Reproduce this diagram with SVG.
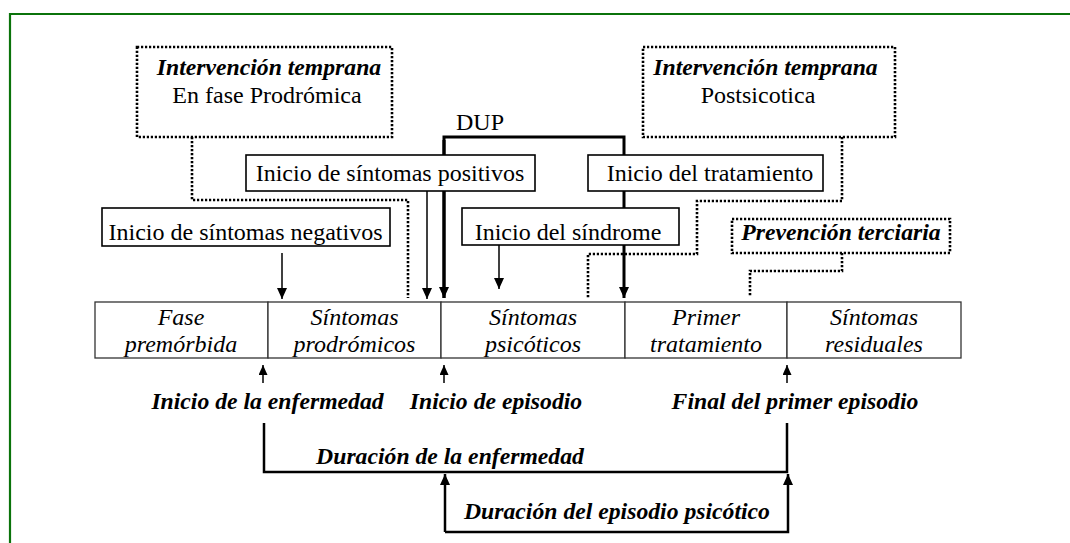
<svg xmlns="http://www.w3.org/2000/svg" width="1070" height="543" viewBox="0 0 1070 543">
<style>
  text{font-family:"Liberation Serif","Times New Roman",serif;fill:#000;font-size:24px}
  .bi{font-weight:bold;font-style:italic;font-size:23.7px}
  .it{font-style:italic}
  .mid{text-anchor:middle}
  .box{fill:#fff;stroke:#000;stroke-width:1.6}
  .dbox{fill:#fff;stroke:#000;stroke-width:2.6;stroke-dasharray:2.2 1.8}
  .cell{fill:#fff;stroke:#333;stroke-width:1.3}
  .thin{fill:none;stroke:#000;stroke-width:1.5}
  .thick{fill:none;stroke:#000;stroke-width:3}
  .mid2{fill:none;stroke:#000;stroke-width:2.5}
  .dot{fill:none;stroke:#000;stroke-width:2.6;stroke-dasharray:2.2 1.8}
</style>
<defs>
  <marker id="ah" viewBox="0 0 11 10" refX="11" refY="5" markerWidth="11" markerHeight="10" markerUnits="userSpaceOnUse" orient="auto">
    <path d="M0,0 L11,5 L0,10 z" fill="#000"/>
  </marker>
  <marker id="ahs" viewBox="0 0 10 9" refX="10" refY="4.5" markerWidth="10" markerHeight="9" markerUnits="userSpaceOnUse" orient="auto">
    <path d="M0,0 L10,4.5 L0,9 z" fill="#000"/>
  </marker>
</defs>
<rect width="1070" height="543" fill="#fff"/>
<path d="M10,543 V14 H1070" fill="none" stroke="#0b730b" stroke-width="2.2"/>

<g id="connectors">
  <!-- dotted links -->
  <path class="dot" d="M192,137 V200 H408 V298"/>
  <path class="dot" d="M842,137 V201 H697 V254 H588 V298"/>
  <path class="dot" d="M842,253 V271 H750 V297"/>
  <!-- DUP bracket -->
  <path class="thick" d="M444,298 V137 H624 V298" marker-end="url(#ah)"/>
  <path class="thick" d="M444,140 V298" marker-end="url(#ah)"/>
  <!-- thin arrows -->
  <path class="thin" d="M427,191 V299" marker-end="url(#ah)"/>
  <path class="thin" d="M282,253 V299" marker-end="url(#ah)"/>
  <path class="thin" d="M499,245 V289" marker-end="url(#ah)"/>
  <!-- up arrows under timeline -->
  <path class="thin" d="M263,383 V365" marker-end="url(#ahs)"/>
  <path class="thin" d="M444,383 V365" marker-end="url(#ahs)"/>
  <path class="thin" d="M787,383 V365" marker-end="url(#ahs)"/>
  <!-- duration brackets -->
  <path class="mid2" d="M264,423 V472 H787 V423"/>
  <path class="mid2" d="M445,532 V474" marker-end="url(#ah)"/>
  <path class="mid2" d="M445,532 H788 V474" marker-end="url(#ah)"/>
</g>

<g id="ip-prodromica">
  <rect class="dbox" x="137" y="47" width="255" height="90"/>
  <text class="bi mid" x="269" y="75">Intervención temprana</text>
  <text class="mid" x="267" y="102.5">En fase Prodrómica</text>
</g>
<g id="ip-postsicotica">
  <rect class="dbox" x="643" y="47" width="252" height="90"/>
  <text class="bi mid" x="765.5" y="75">Intervención temprana</text>
  <text class="mid" x="758" y="102.5">Postsicotica</text>
</g>
<g id="dup-label">
  <text class="mid" x="480" y="130">DUP</text>
</g>
<g id="inicio-positivos">
  <rect class="box" x="246" y="155" width="289" height="36"/>
  <text class="mid" x="390" y="181">Inicio de síntomas positivos</text>
</g>
<g id="inicio-tratamiento">
  <rect class="box" x="588" y="155" width="235" height="36"/>
  <text class="mid" x="710" y="180.5">Inicio del tratamiento</text>
</g>
<g id="inicio-negativos">
  <rect class="box" x="102" y="208" width="288" height="38"/>
  <text class="mid" x="245.5" y="240">Inicio de síntomas negativos</text>
</g>
<g id="inicio-sindrome">
  <rect class="box" x="462" y="208" width="217" height="37"/>
  <text class="mid" x="568" y="240">Inicio del síndrome</text>
</g>
<g id="prevencion-terciaria">
  <rect class="dbox" x="732" y="219" width="218" height="34"/>
  <text class="bi mid" x="841" y="239.5">Prevención terciaria</text>
</g>

<g id="fase-premorbida">
  <rect class="cell" x="95" y="302" width="173" height="56"/>
  <text class="it mid" x="181" y="325">Fase</text>
  <text class="it mid" x="181" y="351.5">premórbida</text>
</g>
<g id="sintomas-prodromicos">
  <rect class="cell" x="268" y="302" width="173" height="56"/>
  <text class="it mid" x="354.5" y="325">Síntomas</text>
  <text class="it mid" x="354.5" y="351.5">prodrómicos</text>
</g>
<g id="sintomas-psicoticos">
  <rect class="cell" x="441" y="302" width="184" height="56"/>
  <text class="it mid" x="533" y="325">Síntomas</text>
  <text class="it mid" x="533" y="351.5">psicóticos</text>
</g>
<g id="primer-tratamiento">
  <rect class="cell" x="625" y="302" width="162" height="56"/>
  <text class="it mid" x="706" y="325">Primer</text>
  <text class="it mid" x="706" y="351.5">tratamiento</text>
</g>
<g id="sintomas-residuales">
  <rect class="cell" x="787" y="302" width="174" height="56"/>
  <text class="it mid" x="874" y="325">Síntomas</text>
  <text class="it mid" x="874" y="351.5">residuales</text>
</g>

<g id="inicio-enfermedad">
  <text class="bi mid" x="267.5" y="408.5">Inicio de la enfermedad</text>
</g>
<g id="inicio-episodio">
  <text class="bi mid" x="496" y="408.5">Inicio de episodio</text>
</g>
<g id="final-episodio">
  <text class="bi mid" x="795" y="408.5">Final del primer episodio</text>
</g>
<g id="duracion-enfermedad">
  <text class="bi mid" x="450" y="463.5">Duración de la enfermedad</text>
</g>
<g id="duracion-episodio">
  <text class="bi mid" x="617" y="519">Duración del episodio psicótico</text>
</g>
</svg>
